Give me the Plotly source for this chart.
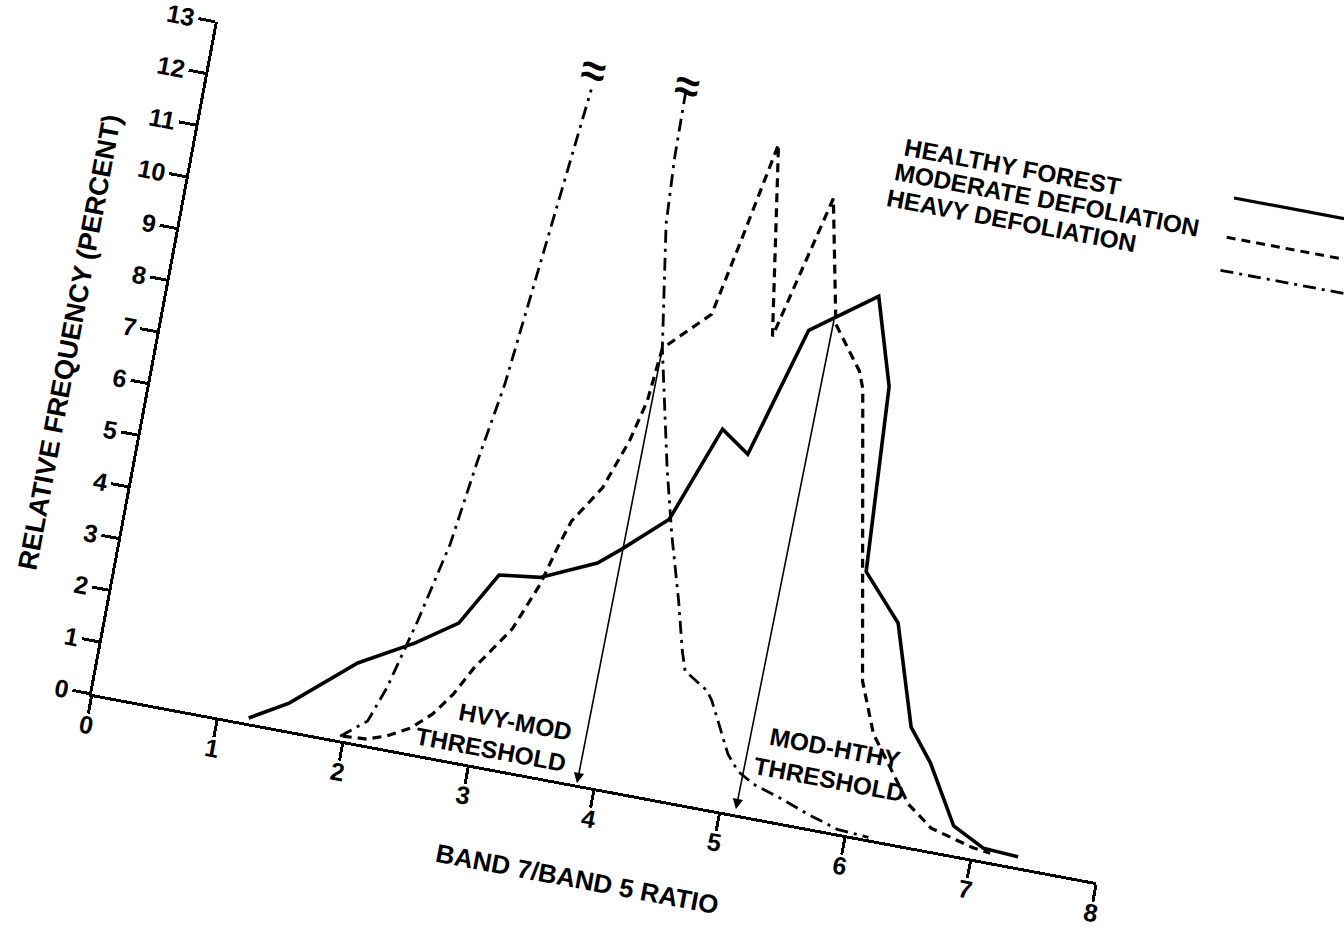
import math
import plotly.graph_objects as go

# ---------------- data ----------------
healthy_x = [1.24, 1.53, 2.00, 2.41, 2.72, 2.96, 3.28, 3.70, 3.87, 4.19, 4.47, 4.70,
             4.99, 5.48, 5.69, 5.78, 6.10, 6.35, 6.55, 6.82, 7.08, 7.36]
healthy_y = [0.10, 0.52, 1.51, 2.08, 2.61, 3.65, 3.75, 4.22, 4.57, 5.29, 7.16, 6.78,
             9.31, 10.19, 8.54, 5.00, 4.15, 2.25, 1.65, 0.55, 0.24, 0.20]

moderate_x = [1.99, 2.18, 2.33, 2.50, 2.65, 2.78, 2.90, 3.05, 3.14, 3.29, 3.37, 3.44,
              3.63, 3.77, 3.85, 3.89, 4.22, 4.34, 4.49, 4.72, 4.99, 5.19, 5.44, 5.49,
              5.80, 5.91, 6.07, 6.44, 6.65, 7.00, 7.14]
moderate_y = [0.09, 0.12, 0.25, 0.48, 0.82, 1.26, 1.82, 2.35, 2.69, 3.62, 4.36, 4.91,
              5.64, 6.61, 7.42, 8.46, 9.27, 10.74, 12.68, 9.07, 11.86, 9.52, 8.72, 8.41,
              4.43, 2.94, 1.99, 0.80, 0.43, 0.21, 0.17]

# heavy defoliation goes off the scale between the two break marks
heavy_x = [1.97, 2.16, 2.26, 2.40, 2.54, 2.63, 2.73, 2.85, 2.97, None,
           3.70, 3.71, 3.74, 3.80, 3.89, 4.10, 4.23, 4.38, 4.48, 4.53, 4.73, 4.78,
           4.98, 5.08, 5.22, 5.45, 5.68, 5.93, 6.18]
heavy_y = [0.08, 0.46, 1.15, 2.50, 4.06, 5.70, 7.24, 10.14, 13.05, None,
           13.35, 12.05, 10.79, 9.85, 8.46, 6.23, 5.02, 3.79, 2.87, 2.51, 2.21, 2.04,
           1.10, 0.82, 0.63, 0.46, 0.26, 0.08, 0.04]

break_x = [2.96, 3.70]
break_y = [13.42, 13.45]

# thresholds: arrow from the crossing of two curves down to the ratio axis
threshold_names = ["HVY-MOD<br>THRESHOLD", "MOD-HTHY<br>THRESHOLD"]
threshold_top_x = [3.89, 5.17]
threshold_top_y = [8.46, 9.62]
threshold_base_x = [3.86, 5.12]
threshold_base_y = [0.03, 0.10]

x_tick_vals = [0, 1, 2, 3, 4, 5, 6, 7, 8]
x_tick_text = ["0", "1", "2", "3", "4", "5", "6", "7", "8"]
y_tick_vals = list(range(0, 14))
y_tick_text = [str(v) for v in y_tick_vals]

legend_names = ["HEALTHY FOREST", "MODERATE DEFOLIATION", "HEAVY DEFOLIATION"]

# ---------------- layout geometry ----------------
FONT = "Liberation Sans, Arial, Helvetica, sans-serif"
X_MAX = 8
Y_MAX = 13
Y2_MAX = 13.6
ML, MT = 150, 80
PW, PH = 1022, 715
MB, MR = 160, 200
W = ML + PW + MR
H = MT + PH + MB
OX, OY = ML, MT + PH          # pixel of the data origin in the figure
TARGET_X, TARGET_Y = 92, 694  # where the origin sits in the page
ROT = math.degrees(math.atan2(23.5, 125.5))

fig = go.Figure()

fig.add_trace(go.Scatter(x=healthy_x, y=healthy_y, mode="lines",
                         line=dict(color="black", width=3.6),
                         name=legend_names[0], showlegend=False))
fig.add_trace(go.Scatter(x=moderate_x, y=moderate_y, mode="lines",
                         line=dict(color="black", width=3.2, dash="9px,6px"),
                         name=legend_names[1], showlegend=False))
fig.add_trace(go.Scatter(x=heavy_x, y=heavy_y, mode="lines", yaxis="y2",
                         line=dict(color="black", width=2.8, dash="13px,6px,3px,6px"),
                         name=legend_names[2], showlegend=False, connectgaps=False))

axis_common = dict(showline=True, linecolor="black", linewidth=2.7,
                   ticks="outside", ticklen=17, tickwidth=2.7, tickcolor="black",
                   showgrid=False, zeroline=False)

fig.update_layout(
    width=W, height=H,
    margin=dict(l=ML, r=MR, t=MT, b=MB, autoexpand=False),
    paper_bgcolor="white", plot_bgcolor="rgba(0,0,0,0)",
    font=dict(family=FONT, color="black"),
    showlegend=False,
    xaxis=dict(range=[0, X_MAX], tickvals=x_tick_vals, ticktext=x_tick_text,
               ticklabelstandoff=-10,
               tickfont=dict(family=FONT, size=25, color="black", weight="bold"),
               title=dict(text="BAND 7/BAND 5 RATIO", font=dict(size=26, weight="bold"),
                          standoff=40),
               **axis_common),
    yaxis=dict(range=[0, Y_MAX], domain=[0, Y_MAX / Y2_MAX],
               tickvals=y_tick_vals, ticktext=y_tick_text, ticklabelstandoff=-1,
               tickfont=dict(family=FONT, size=25, color="black", weight="bold"),
               title=dict(text="RELATIVE FREQUENCY (PERCENT)",
                          font=dict(size=27, weight="bold"), standoff=18),
               **axis_common),
    yaxis2=dict(range=[0, Y2_MAX], domain=[0, 1], anchor="x", visible=False,
                showgrid=False, zeroline=False),
)

# break marks where heavy defoliation leaves the scale
for bx, by in zip(break_x, break_y):
    fig.add_annotation(x=bx, y=by, xref="x", yref="y2", text="<b>≈</b>",
                       showarrow=False, font=dict(size=44, color="black"),
                       xanchor="center", yanchor="middle")

# threshold arrows
for i in range(2):
    fig.add_annotation(x=threshold_base_x[i], y=threshold_base_y[i],
                       ax=threshold_top_x[i], ay=threshold_top_y[i],
                       xref="x", yref="y", axref="x", ayref="y",
                       text="", showarrow=True, arrowhead=2, arrowsize=1.3,
                       arrowwidth=1.6, arrowcolor="black", standoff=0, startstandoff=0)

# threshold labels
fig.add_annotation(x=3.757, y=0.66, xref="x", yref="y", text=threshold_names[0],
                   showarrow=False, xanchor="right", yanchor="middle", align="right",
                   font=dict(size=24.5, color="black", weight="bold"))
fig.add_annotation(x=5.79, y=1.28, xref="x", yref="y", text=threshold_names[1],
                   showarrow=False, xanchor="center", yanchor="middle", align="center",
                   font=dict(size=24.5, color="black", weight="bold"))

# legend: text followed by a line sample on its right
legend_text_x = [0.681, 0.676, 0.673]
legend_text_y = [0.962, 0.925, 0.888]
legend_line_y = [0.976, 0.920, 0.873]
legend_dash = ["solid", "9px,6px", "13px,6px,3px,6px"]
legend_width = [3.2, 3.0, 2.8]
for i, name in enumerate(legend_names):
    fig.add_annotation(x=legend_text_x[i], y=legend_text_y[i], xref="paper", yref="paper",
                       text=name, showarrow=False, xanchor="left", yanchor="middle",
                       font=dict(size=24.5, color="black", weight="bold"))
    fig.add_shape(type="line", xref="paper", yref="paper",
                  x0=1.009, x1=1.14, y0=legend_line_y[i], y1=legend_line_y[i],
                  line=dict(color="black", width=legend_width[i], dash=legend_dash[i]))

# the reference page is a scan tilted clockwise; tilt the whole figure the same way
post = (
    "var gd=document.getElementById('{plot_id}');"
    "document.documentElement.style.overflow='hidden';"
    "document.body.style.margin='0';document.body.style.overflow='hidden';"
    "gd.style.transformOrigin='" + str(OX) + "px " + str(OY) + "px';"
    "gd.style.transform='translate(" + str(TARGET_X - OX) + "px," + str(TARGET_Y - OY)
    + "px) rotate(" + ("%.2f" % ROT) + "deg)';"
)

fig.write_html("out.html", post_script=post, config=dict(displayModeBar=False))
